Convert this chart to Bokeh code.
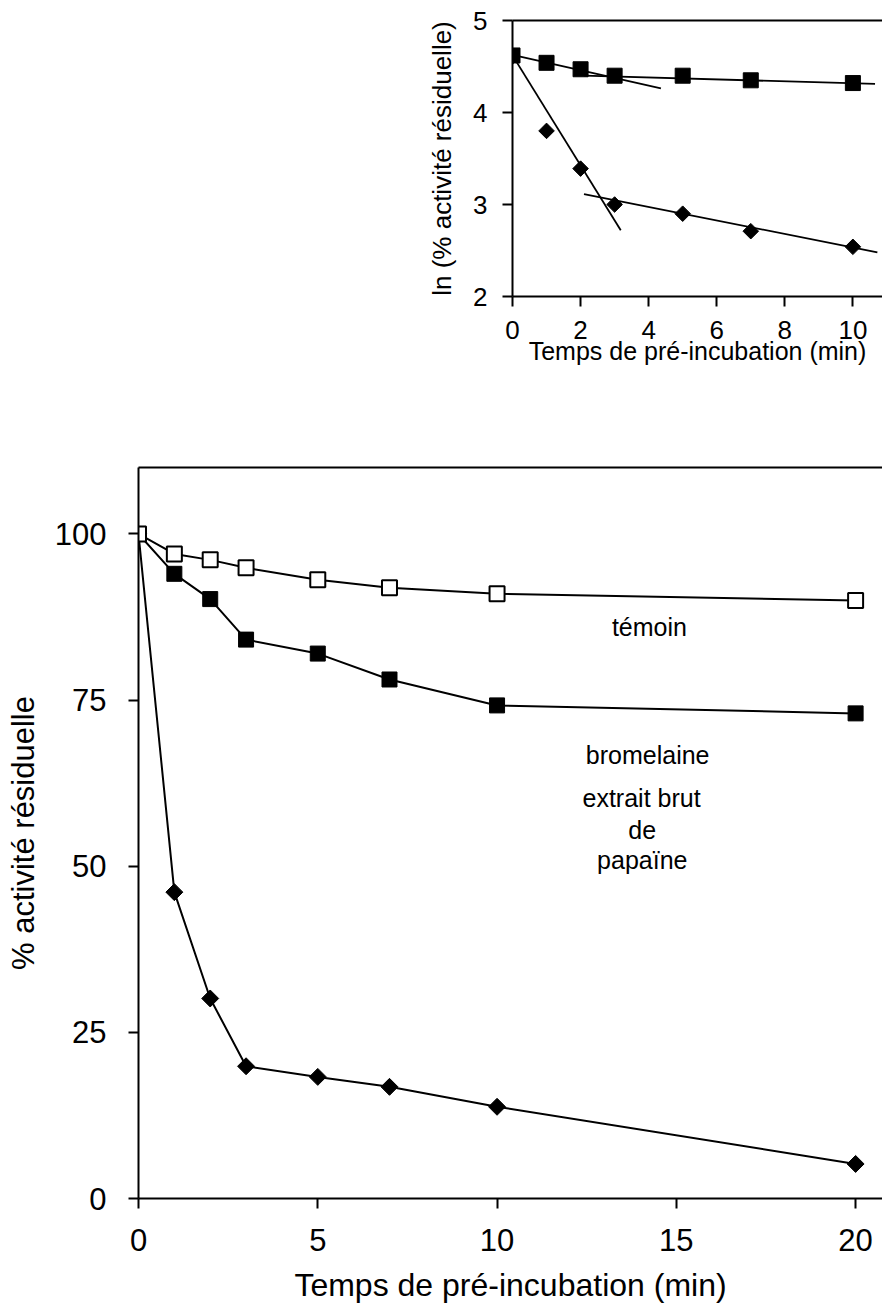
from bokeh.plotting import figure
from bokeh.layouts import column, row
from bokeh.models import Spacer, Label, FixedTicker, LinearAxis, Range1d
from bokeh.embed import file_html
from bokeh.resources import INLINE

FONT = "Liberation Sans"

# ---------------- main chart data ----------------
time_main = [0, 1, 2, 3, 5, 7, 10, 20]
temoin = [100, 97.0, 96.1, 94.9, 93.1, 91.9, 91.0, 90.0]
bromelaine = [100, 94.0, 90.2, 84.1, 82.0, 78.1, 74.2, 73.0]
papaine = [100, 46.1, 30.1, 19.9, 18.3, 16.8, 13.8, 5.2]
main_xticks = [0, 5, 10, 15, 20]
main_yticks = [0, 25, 50, 75, 100]

# ---------------- inset data (ln) ----------------
time_inset = [0, 1, 2, 3, 5, 7, 10]
ln_bromelaine = [4.62, 4.54, 4.47, 4.40, 4.40, 4.35, 4.32]
ln_papaine = [4.61, 3.80, 3.39, 3.00, 2.90, 2.71, 2.54]
fit_brom1_x = [0, 4.36]
fit_brom1_y = [4.627, 4.263]
fit_brom2_x = [2.1, 10.65]
fit_brom2_y = [4.40, 4.311]
fit_pap1_x = [0, 3.18]
fit_pap1_y = [4.62, 2.72]
fit_pap2_x = [2.1, 10.72]
fit_pap2_y = [3.114, 2.479]
inset_xticks = [0, 2, 4, 6, 8, 10]
inset_yticks = [2, 3, 4, 5]


def style_axis(ax, tick_size, label_size, tick_standoff, lab_standoff):
    ax.axis_line_width = 2
    ax.axis_line_color = "black"
    ax.major_tick_line_width = 2
    ax.major_tick_line_color = "black"
    ax.major_tick_out = 10
    ax.major_tick_in = 0
    ax.minor_tick_line_color = None
    ax.major_label_text_font = FONT
    ax.major_label_text_font_size = tick_size
    ax.major_label_text_color = "black"
    ax.axis_label_text_font = FONT
    ax.axis_label_text_font_size = label_size
    ax.axis_label_text_font_style = "normal"
    ax.axis_label_text_color = "black"
    ax.axis_label_standoff = lab_standoff
    ax.major_label_standoff = tick_standoff


def add_top_border(p):
    top = LinearAxis(ticker=FixedTicker(ticks=[]), axis_line_width=2,
                     major_tick_line_color=None, minor_tick_line_color=None)
    p.add_layout(top, "above")


# ---------------- inset figure ----------------
pi = figure(width=482, height=400, output_backend="svg", toolbar_location=None,
            x_range=Range1d(0, 10.87), y_range=Range1d(2, 5),
            min_border_left=112, min_border_right=0, min_border_top=20,
            min_border_bottom=104, outline_line_color=None)
pi.grid.visible = False
pi.xaxis.ticker = FixedTicker(ticks=inset_xticks)
pi.yaxis.ticker = FixedTicker(ticks=inset_yticks)
pi.xaxis.axis_label = "Temps de pré-incubation (min)"
pi.yaxis.axis_label = "ln (% activité résiduelle)"
style_axis(pi.xaxis[0], "26px", "25px", 14, -5)
style_axis(pi.yaxis[0], "26px", "26px", 15, 13)
add_top_border(pi)

for fx, fy in ((fit_brom1_x, fit_brom1_y), (fit_brom2_x, fit_brom2_y),
               (fit_pap1_x, fit_pap1_y), (fit_pap2_x, fit_pap2_y)):
    pi.line(fx, fy, line_color="black", line_width=1.8)
pi.scatter(time_inset, ln_papaine, marker="square", size=11, angle=0.785398,
           fill_color="black", line_color="black")
pi.scatter(time_inset, ln_bromelaine, marker="square", size=15,
           fill_color="black", line_color="black")

# ---------------- main figure ----------------
p = figure(width=882, height=908, output_backend="svg", toolbar_location=None,
           x_range=Range1d(0, 20.75), y_range=Range1d(0, 110),
           min_border_left=138, min_border_right=0, min_border_top=67,
           min_border_bottom=110, outline_line_color=None)
p.grid.visible = False
p.xaxis.ticker = FixedTicker(ticks=main_xticks)
p.yaxis.ticker = FixedTicker(ticks=main_yticks)
p.xaxis.axis_label = "Temps de pré-incubation (min)"
p.yaxis.axis_label = "% activité résiduelle"
style_axis(p.xaxis[0], "31px", "32px", 20, 13)
style_axis(p.yaxis[0], "31px", "31px", 22, 11)
add_top_border(p)

p.line(time_main, papaine, line_color="black", line_width=2)
p.line(time_main, bromelaine, line_color="black", line_width=2)
p.line(time_main, temoin, line_color="black", line_width=2)
p.scatter(time_main, papaine, marker="square", size=12, angle=0.785398,
          fill_color="black", line_color="black")
p.scatter(time_main, bromelaine, marker="square", size=15,
          fill_color="black", line_color="black")
p.scatter(time_main, temoin, marker="square", size=15,
          fill_color="white", line_color="black", line_width=2)

annotations = [("témoin", 14.25, 86.0), ("bromelaine", 14.2, 66.8),
               ("extrait brut", 14.03, 60.2), ("de", 14.05, 55.5),
               ("papaïne", 14.05, 51.0)]
for txt, ax_, ay_ in annotations:
    p.add_layout(Label(x=ax_, y=ay_, text=txt, text_align="center",
                       text_baseline="alphabetic", text_font=FONT,
                       text_font_size="25px", text_color="black"))

layout = column(row(Spacer(width=400, height=400), pi), p)
open("out.html", "w").write(file_html(layout, INLINE))
